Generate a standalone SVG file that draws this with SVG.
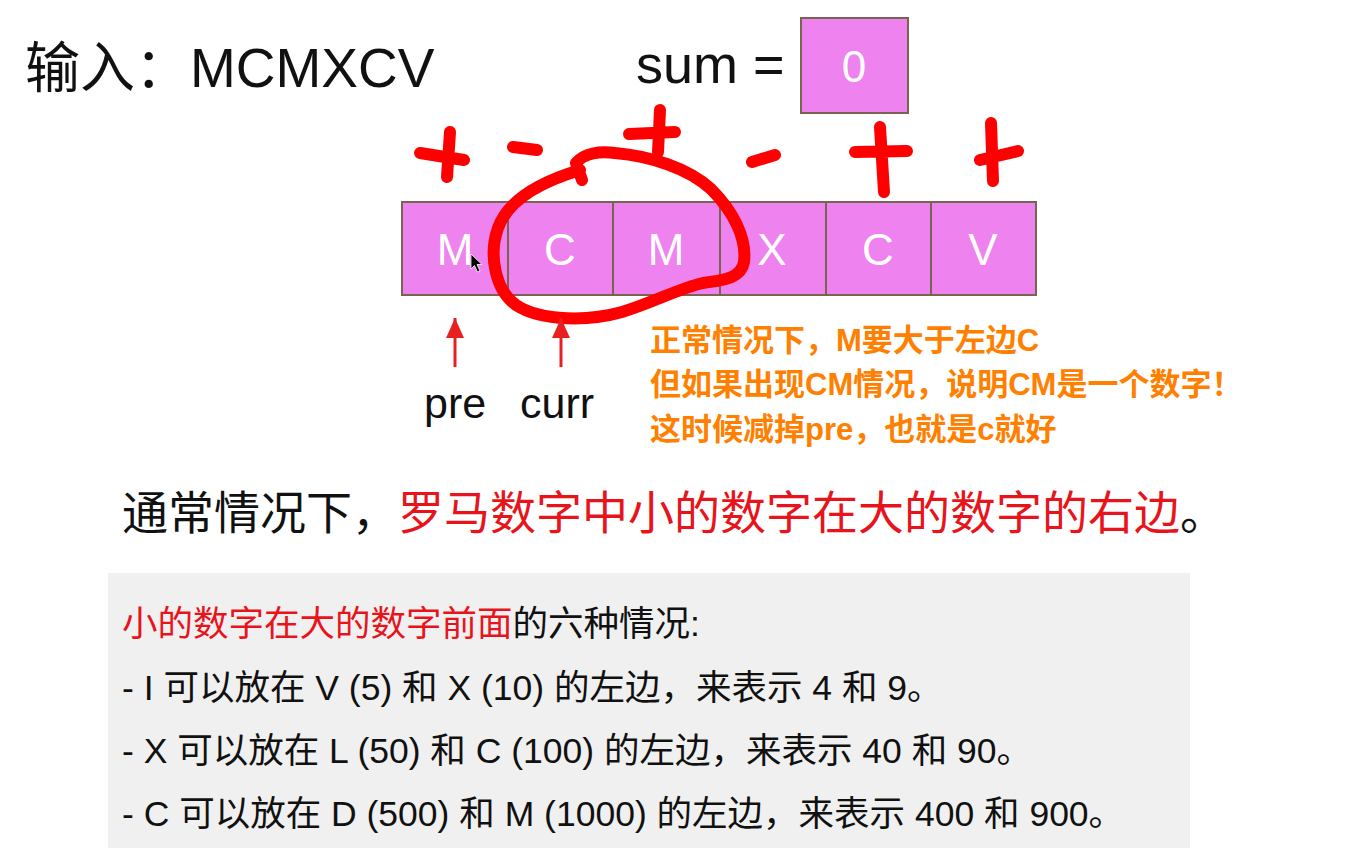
<svg xmlns="http://www.w3.org/2000/svg" width="1356" height="848" viewBox="0 0 1356 848">
<defs>
<style>
.sans{font-family:"Liberation Sans","Noto Sans CJK SC",sans-serif}
.cell{fill:#ee82ee;stroke:#7a6450;stroke-width:2}
.cellt{font-family:"Liberation Sans",sans-serif;font-size:44px;fill:#ffffff;text-anchor:middle}
.ink{fill:none;stroke:#ff0000;stroke-width:12;stroke-linecap:round;stroke-linejoin:round}
.ptr{stroke:#e82020;stroke-width:3}
.note{font-family:"Liberation Sans","Noto Sans CJK SC",sans-serif;font-weight:bold;font-size:31px;fill:#ff8000}
.rule{font-family:"Liberation Sans","Noto Sans CJK SC",sans-serif;font-size:35.5px;fill:#111}
</style>
<marker id="arr" markerWidth="20" markerHeight="18" refX="20" refY="9" orient="auto" markerUnits="userSpaceOnUse" viewBox="0 0 20 18">
<path d="M0,0 L20,9 L0,18 Z" fill="#e82020"/>
</marker>
</defs>
<rect width="1356" height="848" fill="#ffffff"/>

<g id="title">
<text class="sans" x="25" y="87" font-size="55" fill="#111">输入：MCMXCV</text>
</g>

<g id="sum">
<text class="sans" x="636" y="83" font-size="54" fill="#111">sum =</text>
<rect class="cell" x="801" y="18" width="107" height="95"/>
<text class="cellt" x="854" y="82">0</text>
</g>

<g id="array">
<g id="cell0"><rect class="cell" x="402" y="202" width="106" height="93"/><text class="cellt" x="455" y="265">M</text></g>
<g id="cell1"><rect class="cell" x="508" y="202" width="105" height="93"/><text class="cellt" x="560" y="265">C</text></g>
<g id="cell2"><rect class="cell" x="613" y="202" width="107" height="93"/><text class="cellt" x="666" y="265">M</text></g>
<g id="cell3"><rect class="cell" x="720" y="202" width="106" height="93"/><text class="cellt" x="772" y="265">X</text></g>
<g id="cell4"><rect class="cell" x="826" y="202" width="105" height="93"/><text class="cellt" x="878" y="265">C</text></g>
<g id="cell5"><rect class="cell" x="931" y="202" width="105" height="93"/><text class="cellt" x="983" y="265">V</text></g>
</g>

<g id="cursor">
<path d="M471,254 L471,269 L474.5,265.5 L477.5,272 L480,271 L477,264.5 L482,264.5 Z" fill="#000" stroke="#fff" stroke-width="0.8"/>
</g>

<g id="annotations">
<path class="ink" d="M420,153 L464,160 M450,132 L447,177"/>
<path class="ink" d="M513,147 L537,150"/>
<path class="ink" d="M660,110 L658,152 M629,134 L675,132"/>
<path class="ink" d="M582,180 L576,163 C584,153 600,151 615,153 C650,156 688,168 711,189 C733,211 747,238 744,262 C741,279 722,280 703,283 C680,288 652,303 622,312 C590,321 542,322 516,305 C496,291 488,256 498,228 C508,200 540,182 580,170"/>
<path class="ink" d="M752,162 L775,155"/>
<path class="ink" d="M880,127 L884,192 M855,152 L907,151"/>
<path class="ink" d="M991,123 L993,181 M980,160 L1018,151"/>
</g>

<g id="connectors">
<line class="ptr" x1="455" y1="367" x2="455" y2="318" marker-end="url(#arr)"/>
<line class="ptr" x1="561" y1="367" x2="561" y2="318" marker-end="url(#arr)"/>
</g>

<g id="pre">
<text class="sans" x="424" y="418" font-size="43" fill="#111">pre</text>
</g>
<g id="curr">
<text class="sans" x="520" y="418" font-size="43" fill="#111">curr</text>
</g>

<g id="note">
<text class="note" x="650" y="351">正常情况下，M要大于左边C</text>
<text class="note" x="650" y="395">但如果出现CM情况，说明CM是一个数字！</text>
<text class="note" x="650" y="440">这时候减掉pre，也就是c就好</text>
</g>

<g id="statement">
<text class="sans" x="122" y="529" font-size="46" fill="#111">通常情况下，<tspan fill="#e8141c">罗马数字中小的数字在大的数字的右边</tspan>。</text>
</g>

<g id="rules">
<rect x="108" y="573" width="1082" height="275" fill="#f0f0f0"/>
<text class="rule" x="122" y="636"><tspan fill="#e8141c">小的数字在大的数字前面</tspan>的六种情况:</text>
<text class="rule" x="122" y="700">- I 可以放在 V (5) 和 X (10) 的左边，来表示 4 和 9。</text>
<text class="rule" x="122" y="763">- X 可以放在 L (50) 和 C (100) 的左边，来表示 40 和 90。</text>
<text class="rule" x="122" y="826">- C 可以放在 D (500) 和 M (1000) 的左边，来表示 400 和 900。</text>
</g>
</svg>
